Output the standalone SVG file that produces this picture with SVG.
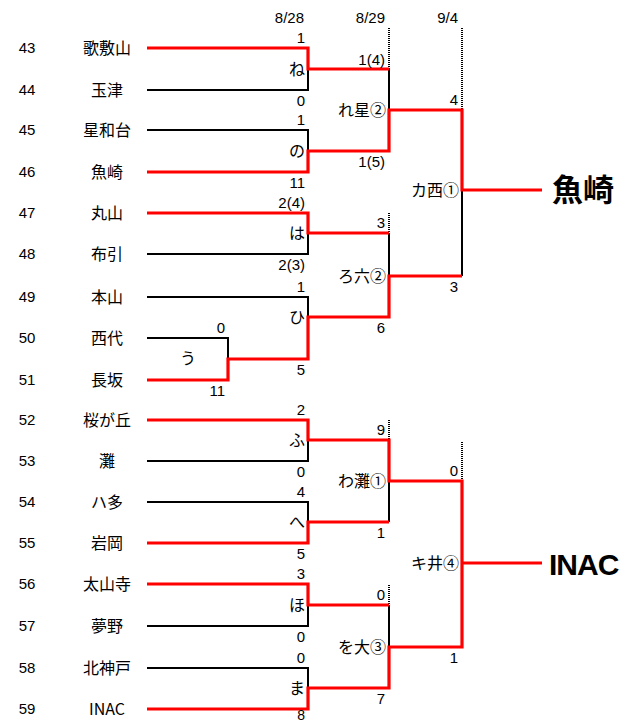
<svg xmlns="http://www.w3.org/2000/svg" width="619" height="723" viewBox="0 0 619 723">
<style>
.bk{fill:none;stroke:#000;stroke-width:2}
.rd{fill:none;stroke:#f00;stroke-width:3.2}
.dt{fill:none;stroke:#000;stroke-width:2;stroke-dasharray:1 1}
text{font-family:"Liberation Sans","Noto Sans CJK JP",sans-serif;fill:#000}
.n{font-size:15px;text-anchor:middle}
.t{font-size:16px;text-anchor:middle;font-family:"Noto Sans CJK JP","Liberation Sans",sans-serif}
.s{font-size:15px;text-anchor:end}
.l{font-size:16px;text-anchor:end;font-family:"Noto Sans CJK JP","Liberation Sans",sans-serif}
.w{font-weight:bold;font-size:31px;font-family:"Noto Sans CJK JP",sans-serif}
</style>
<rect width="619" height="723" fill="#fff"/>
<g id="dates">
<text class="s" x="304" y="23">8/28</text>
<text class="s" x="385" y="23">8/29</text>
<text class="s" x="458" y="23">9/4</text>
</g>
<g id="teams">
<g id="t43"><text class="n" x="27" y="53">43</text><text class="t" x="107" y="54">歌敷山</text></g>
<g id="t44"><text class="n" x="27" y="95">44</text><text class="t" x="107" y="96">玉津</text></g>
<g id="t45"><text class="n" x="27" y="135">45</text><text class="t" x="107" y="136">星和台</text></g>
<g id="t46"><text class="n" x="27" y="177">46</text><text class="t" x="107" y="178">魚崎</text></g>
<g id="t47"><text class="n" x="27" y="218">47</text><text class="t" x="107" y="219">丸山</text></g>
<g id="t48"><text class="n" x="27" y="259">48</text><text class="t" x="107" y="260">布引</text></g>
<g id="t49"><text class="n" x="27" y="302">49</text><text class="t" x="107" y="303">本山</text></g>
<g id="t50"><text class="n" x="27" y="343">50</text><text class="t" x="107" y="344">西代</text></g>
<g id="t51"><text class="n" x="27" y="385">51</text><text class="t" x="107" y="386">長坂</text></g>
<g id="t52"><text class="n" x="27" y="425">52</text><text class="t" x="107" y="426">桜が丘</text></g>
<g id="t53"><text class="n" x="27" y="466">53</text><text class="t" x="107" y="467">灘</text></g>
<g id="t54"><text class="n" x="27" y="507">54</text><text class="t" x="107" y="508">ハ多</text></g>
<g id="t55"><text class="n" x="27" y="548">55</text><text class="t" x="107" y="549">岩岡</text></g>
<g id="t56"><text class="n" x="27" y="589">56</text><text class="t" x="107" y="590">太山寺</text></g>
<g id="t57"><text class="n" x="27" y="631">57</text><text class="t" x="107" y="632">夢野</text></g>
<g id="t58"><text class="n" x="27" y="673">58</text><text class="t" x="107" y="674">北神戸</text></g>
<g id="t59"><text class="n" x="27" y="714">59</text><text class="t" x="107" y="715">INAC</text></g>
</g>
<g id="connectors">
<path class="dt" d="M389,28V69M462,28V110M389,213V233M389,420V440M462,442V481M389,585V605"/>
<path class="bk" d="M147,90H308V69M147,130H308V151M389,69V110M462,190V276M308,233V254H147M147,297H308V317M147,338H228V359M389,233V276M308,440V461H147M147,502H308V522M389,481V522M462,481V563M308,605V626H147M147,668H308V688M389,605V647"/>
<path class="rd" d="M147,48H308V69H389M147,172H308V151H389V110H462V190H542M147,213H308V233H389M147,380H228V359H308V317H389V276H462M147,420H308V440H389V481H462V563H542M147,543H308V522H389M147,584H308V605H389M147,709H308V688H389V647H462V563"/>
</g>
<g id="m-ne"><text class="l" x="305" y="75">ね</text><text class="s" x="305" y="43">1</text><text class="s" x="305" y="106">0</text></g>
<g id="m-no"><text class="l" x="305" y="157">の</text><text class="s" x="305" y="125">1</text><text class="s" x="305" y="188">11</text></g>
<g id="m-ha"><text class="l" x="305" y="239">は</text><text class="s" x="305" y="208">2(4)</text><text class="s" x="305" y="270">2(3)</text></g>
<g id="m-u"><text class="t" x="188" y="364">う</text><text class="s" x="225" y="333">0</text><text class="s" x="225" y="396">11</text></g>
<g id="m-hi"><text class="l" x="305" y="323">ひ</text><text class="s" x="305" y="292">1</text><text class="s" x="305" y="375">5</text></g>
<g id="m-fu"><text class="l" x="305" y="446">ふ</text><text class="s" x="305" y="415">2</text><text class="s" x="305" y="477">0</text></g>
<g id="m-he"><text class="l" x="305" y="528">へ</text><text class="s" x="305" y="497">4</text><text class="s" x="305" y="559">5</text></g>
<g id="m-ho"><text class="l" x="305" y="611">ほ</text><text class="s" x="305" y="579">3</text><text class="s" x="305" y="642">0</text></g>
<g id="m-ma"><text class="l" x="305" y="694">ま</text><text class="s" x="305" y="663">0</text><text class="s" x="305" y="720" style="font-size:14px">8</text></g>
<g id="m-re"><text class="l" x="386" y="116">れ星②</text><text class="s" x="385" y="65">1(4)</text><text class="s" x="385" y="167">1(5)</text></g>
<g id="m-ro"><text class="l" x="386" y="282">ろ六②</text><text class="s" x="385" y="228">3</text><text class="s" x="385" y="333">6</text></g>
<g id="m-wa"><text class="l" x="386" y="487">わ灘①</text><text class="s" x="385" y="435">9</text><text class="s" x="385" y="538">1</text></g>
<g id="m-wo"><text class="l" x="386" y="653">を大③</text><text class="s" x="385" y="600">0</text><text class="s" x="385" y="704">7</text></g>
<g id="m-ka"><text class="l" x="459" y="196">カ西①</text><text class="s" x="458" y="105">4</text><text class="s" x="458" y="292">3</text></g>
<g id="m-ki"><text class="l" x="459" y="569">キ井④</text><text class="s" x="458" y="476">0</text><text class="s" x="458" y="663">1</text></g>
<g id="winner1"><text class="w" x="552" y="201">魚崎</text></g>
<g id="winner2"><text x="549" y="575" style="font-weight:bold;font-size:30px;letter-spacing:-1px">INAC</text></g>
</svg>
